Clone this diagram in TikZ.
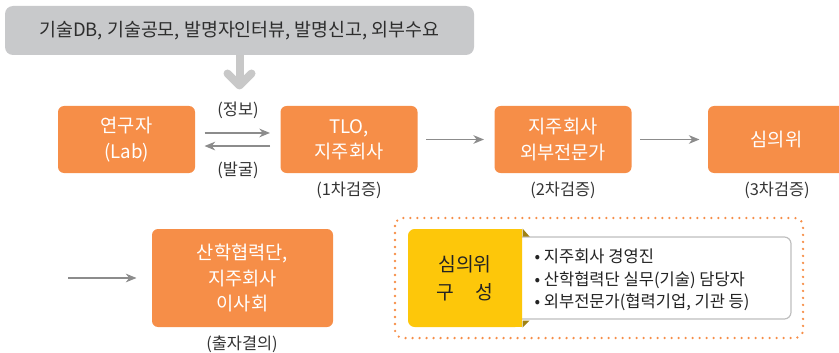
\documentclass[tikz,border=0pt]{standalone}
\usepackage{fontspec}
\setmainfont{Noto Sans CJK KR}
\usetikzlibrary{arrows.meta}

\tikzset{every picture/.style={line width=0.75pt}}
\tikzset{
  stepbox/.style={fill={rgb, 255:red, 246; green, 142; blue, 72 }, rounded corners=4.5pt, text=white, minimum width=102.75pt, minimum height=50.25pt, inner sep=0pt, align=center, font=\fontsize{14}{19}\selectfont},
  steplabel/.style={inner sep=0.75pt, text={rgb, 255:red, 51; green, 51; blue, 51 }, font=\fontsize{12.3}{14}\selectfont},
  sourceband/.style={fill={rgb, 255:red, 200; green, 201; blue, 203 }, rounded corners=6pt, minimum width=351.75pt, minimum height=36.75pt, inner sep=0pt, text={rgb, 255:red, 45; green, 45; blue, 45 }, font=\fontsize{13.8}{15}\selectfont},
  blockarrow/.style={draw={rgb, 255:red, 200; green, 200; blue, 200 }, line width=6pt, line cap=round, line join=round},
  flowarrow/.style={draw={rgb, 255:red, 140; green, 140; blue, 140 }, line width=0.9pt, -{Stealth[length=8pt,width=6.5pt,inset=2.5pt]}},
  panelbox/.style={fill={rgb, 255:red, 253; green, 199; blue, 10 }, rounded corners=5pt, minimum width=85.5pt, minimum height=73.5pt, inner sep=0pt, align=center, text={rgb, 255:red, 35; green, 35; blue, 35 }, font=\fontsize{14.5}{21}\selectfont},
  memberbox/.style={draw={rgb, 255:red, 190; green, 190; blue, 190 }, fill=white, line width=0.9pt, rounded corners=5pt, minimum width=207pt, minimum height=61.5pt, inner sep=0pt},
  memberlist/.style={inner sep=0.75pt, align=left, text={rgb, 255:red, 35; green, 35; blue, 35 }, font=\fontsize{12.4}{16.9}\selectfont},
}

\begin{document}
\begin{tikzpicture}[x=0.75pt,y=0.75pt,yscale=-1]
\useasboundingbox (0,0) rectangle (839,353);
\clip (0,0) rectangle (839,353);

% Source band
\node[sourceband] (source) at (239.5,30.5) {기술DB, 기술공모, 발명자인터뷰, 발명신고, 외부수요};
% Block arrow
\draw[blockarrow, line cap=butt] (source.south) -- ++(0,31) ;
\draw[blockarrow] (source.south) ++(-12,18) -- ++(12,12) -- ++(12,-12) ;

% Step boxes
\node[stepbox] (lab) at (126.5,139.5) {연구자\\(Lab)};
\node[stepbox] (tlo) at (349,139.5) {TLO,\\지주회사};
\node[stepbox] (expert) at (563,139.5) {지주회사\\외부전문가};
\node[stepbox] (review) at (776.5,139.5) {심의위};
\node[stepbox, minimum width=135.75pt, minimum height=73.5pt] (board) at (242.5,278) {산학협력단,\\지주회사\\이사회};

% Text Node
\node[steplabel] (info) at (238,110) {(정보)};
\node[steplabel] (found) at (238,170) {(발굴)};
\node[steplabel] (check1) at (349,190) {(1차검증)};
\node[steplabel] (check2) at (563,190) {(2차검증)};
\node[steplabel] (check3) at (777,190) {(3차검증)};
\node[steplabel] (decide) at (242,344) {(출자결의)};

% Straight Lines
\draw[flowarrow, shorten <=6.75pt, shorten >=7.5pt] ([yshift=-4.9pt]lab.east) -- ([yshift=-4.9pt]tlo.west) ;
\draw[flowarrow, shorten <=7.5pt, shorten >=6.75pt] ([yshift=4.9pt]tlo.west) -- ([yshift=4.9pt]lab.east) ;
\draw[flowarrow, shorten <=6pt, shorten >=7.5pt] (tlo) -- (expert) ;
\draw[flowarrow, shorten <=6pt, shorten >=6pt] (expert) -- (review) ;
\coordinate (carry) at (68,278);
\draw[flowarrow, shorten >=11.25pt] (carry) -- (board.west) ;

% Committee
\draw[draw={rgb, 255:red, 246; green, 142; blue, 72 }, line width=1.9pt, line cap=round, dash pattern=on 0pt off 5.25pt, rounded corners=6pt] (395,218) rectangle (803,338) ;
\node[memberbox] (members) at (653,278) {};
\node[panelbox] (panel) at (465,278) {심의위\\구\hspace{1.1em}성};
\fill[fill={rgb, 255:red, 253; green, 199; blue, 10 }] (500,229) rectangle (522,327) ;
\fill[fill={rgb, 255:red, 160; green, 130; blue, 20 }] (panel.north east) -- ++(7,8) -- ++(-7,0) -- cycle ;
\fill[fill={rgb, 255:red, 160; green, 130; blue, 20 }] (panel.south east) -- ++(0,-7) -- ++(7,0) -- cycle ;
\node[memberlist, anchor=west] (list) at (533,280) {• 지주회사 경영진\\• 산학협력단 실무(기술) 담당자\\• 외부전문가(협력기업, 기관 등)};

\end{tikzpicture}
\end{document}
